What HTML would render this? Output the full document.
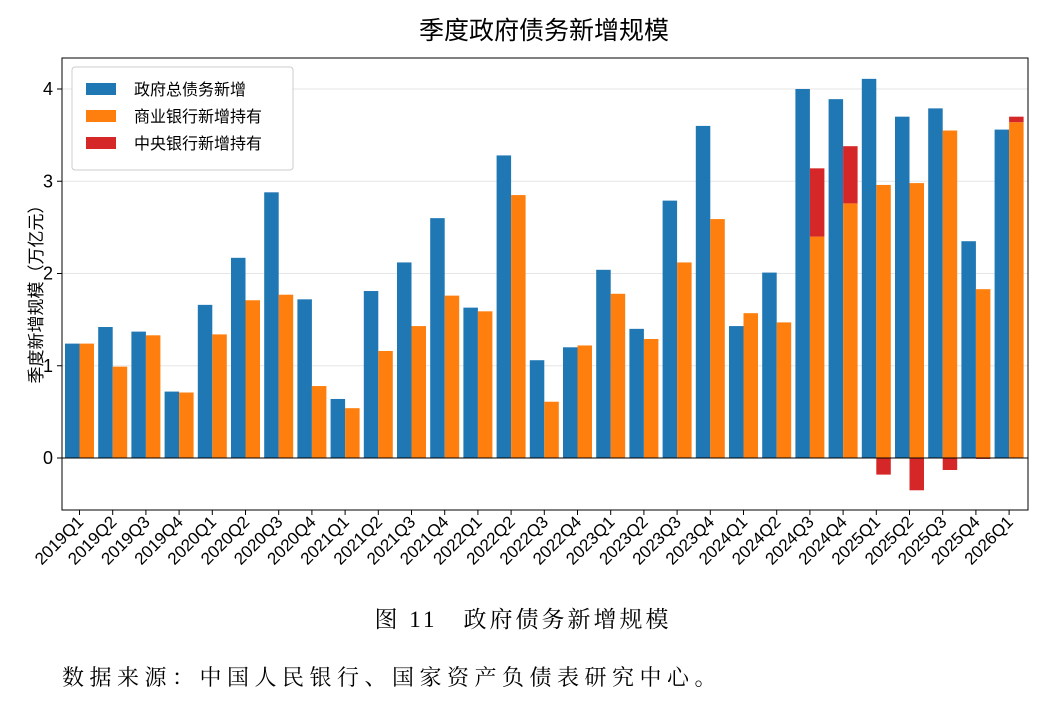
<!DOCTYPE html>
<html><head><meta charset="utf-8">
<style>
body{margin:0;background:#fff;width:1052px;height:698px;overflow:hidden;font-family:"Liberation Sans","Noto Sans CJK SC",sans-serif;}
svg text{font-family:"Liberation Sans","Noto Sans CJK SC",sans-serif;}
</style></head>
<body>
<svg id="chart" width="1052" height="698" xmlns="http://www.w3.org/2000/svg">
<text x="544" y="39" font-size="25" text-anchor="middle" fill="#000">季度政府债务新增规模</text>
<g id="grid"></g>
<g id="bars"></g>
<rect x="62" y="58" width="966" height="452" fill="none" stroke="#000" stroke-width="1"/>
<g id="axes"></g>
<text transform="translate(42,290) rotate(-90)" font-size="17" text-anchor="middle" fill="#000">季度新增规模（万亿元）</text>
<g>
<rect x="72" y="67" width="221" height="103" rx="3" fill="#fff" stroke="#ccc"/>
<rect x="86" y="83" width="30" height="12" fill="#1f77b4"/>
<text x="134" y="95" font-size="16">政府总债务新增</text>
<rect x="86" y="110" width="30" height="12" fill="#ff7f0e"/>
<text x="134" y="122" font-size="16">商业银行新增持有</text>
<rect x="86" y="137" width="30" height="12" fill="#d62728"/>
<text x="134" y="149" font-size="16">中央银行新增持有</text>
</g>
<text x="523" y="627" font-size="23" text-anchor="middle" letter-spacing="3" style="font-family:'Liberation Serif','Noto Serif CJK SC',serif">图 11　政府债务新增规模</text>
<text x="62" y="685" font-size="22" letter-spacing="5.5" style="font-family:'Liberation Serif','Noto Serif CJK SC',serif">数据来源：中国人民银行、国家资产负债表研究中心。</text>
</svg>
<script>
const categories=["2019Q1","2019Q2","2019Q3","2019Q4","2020Q1","2020Q2","2020Q3","2020Q4","2021Q1","2021Q2","2021Q3","2021Q4","2022Q1","2022Q2","2022Q3","2022Q4","2023Q1","2023Q2","2023Q3","2023Q4","2024Q1","2024Q2","2024Q3","2024Q4","2025Q1","2025Q2","2025Q3","2025Q4","2026Q1"];
const govDebt=[1.24,1.42,1.37,0.72,1.66,2.17,2.88,1.72,0.64,1.81,2.12,2.60,1.63,3.28,1.06,1.20,2.04,1.40,2.79,3.60,1.43,2.01,4.00,3.89,4.11,3.70,3.79,2.35,3.56];
const commBank=[1.24,0.99,1.33,0.71,1.34,1.71,1.77,0.78,0.54,1.16,1.43,1.76,1.59,2.85,0.61,1.22,1.78,1.29,2.12,2.59,1.57,1.47,2.40,2.76,2.96,2.98,3.55,1.83,3.64];
const centralBank=[0,0,0,0,0,0,0,0,0,0,0,0,0,0,0,0,0,0,0,0,0,0,0.74,0.62,-0.18,-0.35,-0.13,-0.01,0.06];
const yTicks=[0,1,2,3,4];
const NS="http://www.w3.org/2000/svg";
const y=v=>458-v*92.25;
const step=33.2, x0=65, bw=14.5;
const xc=i=>x0+i*step+bw;
function mk(tag,attrs,parent){const e=document.createElementNS(NS,tag);for(const k in attrs)e.setAttribute(k,attrs[k]);parent.appendChild(e);return e;}
const grid=document.getElementById('grid'),bars=document.getElementById('bars'),axes=document.getElementById('axes');
yTicks.forEach(t=>{
 const l=mk('line',{x1:62,x2:1028,y1:y(t),y2:y(t),stroke:t===0?'#000':'#e6e6e6','stroke-width':1},t===0?axes:grid);
 
 
 const tk=mk('line',{x1:57,x2:62,y1:y(t),y2:y(t),stroke:'#000'},axes);
 
 
 const tx=mk('text',{x:53,y:y(t)+6,'font-size':18,'text-anchor':'end'},axes);tx.textContent=t;
 
 
});
categories.forEach((c,i)=>{
 const bx=x0+i*step;
 const g=govDebt[i];
 const b=mk('rect',{x:bx,y:Math.min(y(g),y(0)),width:bw,height:Math.abs(y(g)-y(0)),fill:'#1f77b4'},bars);
 
 
 const o=commBank[i];
 const ob=mk('rect',{x:bx+bw,y:Math.min(y(o),y(0)),width:bw,height:Math.abs(y(o)-y(0)),fill:'#ff7f0e'},bars);
 
 
 const r=centralBank[i];
 if(r!==0){
  const base=r>0?o:0;
  const rb=mk('rect',{x:bx+bw,y:Math.min(y(base),y(base+r)),width:bw,height:Math.abs(y(base+r)-y(base)),fill:'#d62728'},bars);
  
  
 }
 const tk=mk('line',{x1:xc(i),x2:xc(i),y1:510,y2:515,stroke:'#000'},axes);
 
 
 const tx=mk('text',{x:0,y:0,'font-size':17,'text-anchor':'end',transform:`translate(${xc(i)+5},${523}) rotate(-45)`},axes);
 tx.textContent=c;
 
 
});
</script>
</body></html>
